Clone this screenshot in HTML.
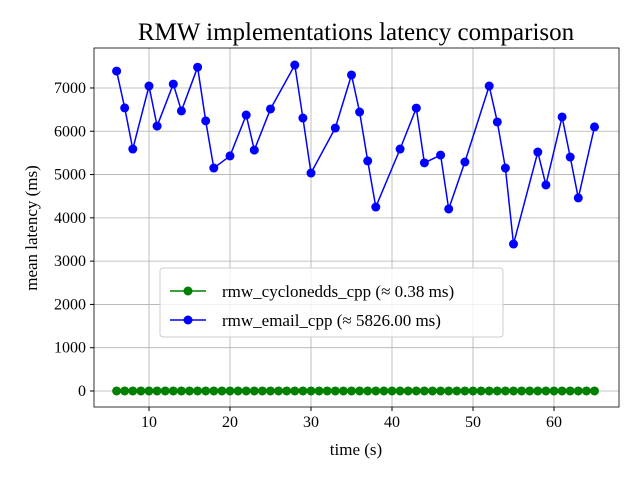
<!DOCTYPE html>
<html><head><meta charset="utf-8"><style>
body{margin:0;background:#fff}
svg text{font-family:"Liberation Serif","DejaVu Serif",serif;fill:#000}
</style></head><body>
<svg id="chart" width="640" height="480" xmlns="http://www.w3.org/2000/svg">
<rect width="640" height="480" fill="#fff"/>
<text x="356" y="40" font-size="25" text-anchor="middle">RMW implementations latency comparison</text>
<g id="grid"></g>
<g id="axes"></g>
<g id="series"></g>
<text x="356" y="455" font-size="17" text-anchor="middle">time (s)</text>
<text x="0" y="0" font-size="17" text-anchor="middle" transform="translate(37,228) rotate(-90)">mean latency (ms)</text>
<g>
<rect x="160" y="268" width="343" height="69" rx="3" fill="#fff" fill-opacity="0.8" stroke="#ccc"/>
<g>
<line x1="170" y1="291" x2="206" y2="291" stroke="green" stroke-width="1.5"/><circle cx="188" cy="291" r="4.5" fill="green"/>
<text x="222" y="297" font-size="17">rmw_cyclonedds_cpp (≈ 0.38 ms)</text></g>
<g>
<line x1="170" y1="320" x2="206" y2="320" stroke="blue" stroke-width="1.5"/><circle cx="188" cy="320" r="4.5" fill="blue"/>
<text x="222" y="326" font-size="17">rmw_email_cpp (≈ 5826.00 ms)</text></g>
</g>
</svg>
<script>
const emailTimes=[6,7,8,10,11,13,14,16,17,18,20,22,23,25,28,29,30,33,35,36,37,38,41,43,44,46,47,49,52,53,54,55,58,59,61,62,63,65];
const emailLatency=[7390,6540,5590,7045,6120,7090,6470,7480,6240,5150,5430,6375,5565,6515,7530,6305,5035,6075,7300,6445,5315,4250,5590,6535,5270,5450,4205,5290,7045,6215,5150,3395,5520,4760,6330,5405,4460,6100];
const cycloneTimes=[];for(let t=6;t<=65;t++)cycloneTimes.push(t);
const cycloneLatency=cycloneTimes.map(()=>0.38);
const xTicks=[10,20,30,40,50,60];
const yTicks=[0,1000,2000,3000,4000,5000,6000,7000];
const L=94,R=619,T=48,B=407;
const xs=v=>149+(v-10)*8.1;
const ys=v=>391-v*0.04329;
const NS="http://www.w3.org/2000/svg";
function mk(tag,attrs,parent){const e=document.createElementNS(NS,tag);for(const k in attrs)e.setAttribute(k,attrs[k]);parent.appendChild(e);return e;}
const grid=document.getElementById('grid'),axes=document.getElementById('axes'),ser=document.getElementById('series');
xTicks.forEach(v=>{const x=xs(v);
const g=mk('line',{x1:x,x2:x,y1:T,y2:B,stroke:'#b0b0b0','stroke-width':0.8},grid);


mk('line',{x1:x,x2:x,y1:B,y2:B+4,stroke:'#000'},axes);
const t=mk('text',{x:x,y:B+20,'font-size':16,'text-anchor':'middle'},axes);t.textContent=v;

});
yTicks.forEach(v=>{const y=ys(v);
const g=mk('line',{x1:L,x2:R,y1:y,y2:y,stroke:'#b0b0b0','stroke-width':0.8},grid);


mk('line',{x1:L-4,x2:L,y1:y,y2:y,stroke:'#000'},axes);
const t=mk('text',{x:L-8,y:y+5,'font-size':16,'text-anchor':'end'},axes);t.textContent=v;

});
const frame=mk('rect',{x:L,y:T,width:R-L,height:B-T,fill:'none',stroke:'#000','stroke-width':0.8},axes);


function series(xsArr,ysArr,color,name){
const pts=xsArr.map((t,i)=>xs(t)+','+ys(ysArr[i])).join(' ');
const pl=mk('polyline',{points:pts,fill:'none',stroke:color,'stroke-width':1.5},ser);


xsArr.forEach((t,i)=>{const c=mk('circle',{cx:xs(t),cy:ys(ysArr[i]),r:4.5,fill:color},ser);

});}
series(emailTimes,emailLatency,'blue','email');
series(cycloneTimes,cycloneLatency,'green','cyclonedds');
</script>
</body></html>
